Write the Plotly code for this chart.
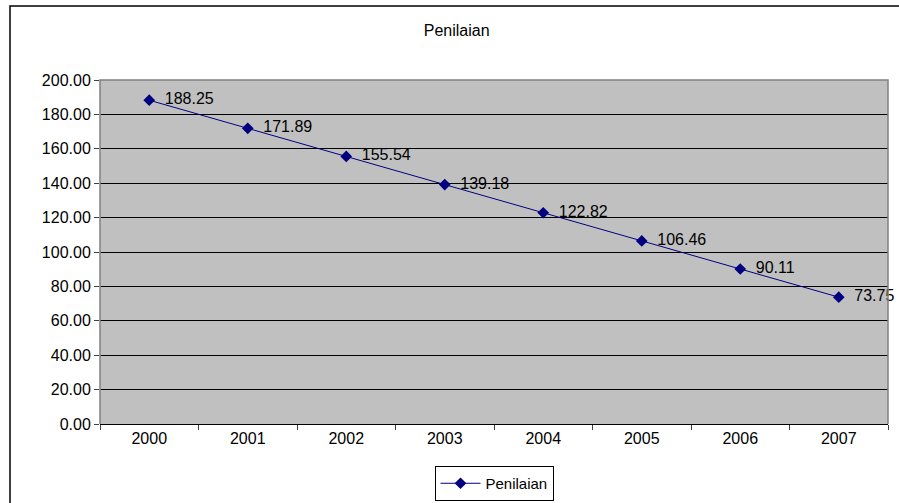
import plotly.graph_objects as go

years = ["2000", "2001", "2002", "2003", "2004", "2005", "2006", "2007"]
penilaian = [188.25, 171.89, 155.54, 139.18, 122.82, 106.46, 90.11, 73.75]
y_ticks = [0, 20, 40, 60, 80, 100, 120, 140, 160, 180, 200]

FONT = "Arial, Liberation Sans, sans-serif"
NAVY = "#000080"
TXT = 16

fig = go.Figure()
fig.add_trace(go.Scatter(
    x=years,
    y=penilaian,
    mode="lines+markers+text",
    name="Penilaian",
    line=dict(color=NAVY, width=1),
    marker=dict(symbol="diamond", size=9, color=NAVY),
    text=["\u00a0\u00a0" + f"{v:.2f}" for v in penilaian],
    textposition="middle right",
    textfont=dict(family=FONT, size=TXT, color="black"),
    cliponaxis=False,
))

fig.update_layout(
    width=899,
    height=503,
    margin=dict(l=100, r=11, t=80, b=79, autoexpand=False),
    paper_bgcolor="white",
    plot_bgcolor="#c0c0c0",
    font=dict(family=FONT, size=TXT, color="black"),
    title=dict(
        text="Penilaian",
        x=0.508, xanchor="center",
        y=1 - 30 / 503, yanchor="middle",
        font=dict(family=FONT, size=TXT, color="black"),
    ),
    showlegend=True,
    legend=dict(
        orientation="h",
        x=0.5, xanchor="center",
        yref="container",
        y=2 / 503, yanchor="bottom",
        bordercolor="black",
        borderwidth=1,
        bgcolor="white",
        font=dict(family=FONT, size=15, color="black"),
        itemwidth=40,
    ),
    xaxis=dict(
        type="category",
        range=[-0.5, 7.5],
        tickson="boundaries",
        ticks="outside",
        ticklen=5,
        tickcolor="#404040",
        showgrid=False,
        showline=True,
        linecolor="black",
        linewidth=1,
        tickfont=dict(family=FONT, size=TXT, color="black"),
        fixedrange=True,
    ),
    yaxis=dict(
        range=[0, 200],
        tickvals=y_ticks,
        ticktext=[f"{v:.2f}" for v in y_ticks],
        ticks="outside",
        ticklen=5,
        tickcolor="#404040",
        showgrid=True,
        gridcolor="black",
        gridwidth=1,
        zeroline=False,
        showline=False,
        tickfont=dict(family=FONT, size=TXT, color="black"),
        fixedrange=True,
    ),
    shapes=[
        # plot area frame: left, top and right edges in grey
        dict(type="path", xref="paper", yref="paper",
             path="M 0 0 L 0 1 L 1 1 L 1 0",
             line=dict(color="#808080", width=1.5), layer="above"),
        # chart border
        dict(type="rect", xref="paper", yref="paper",
             x0=-0.1142, x1=1.05, y0=-0.3, y1=1.215,
             line=dict(color="black", width=1.5), layer="above"),
    ],
)

fig.write_html("out.html")
